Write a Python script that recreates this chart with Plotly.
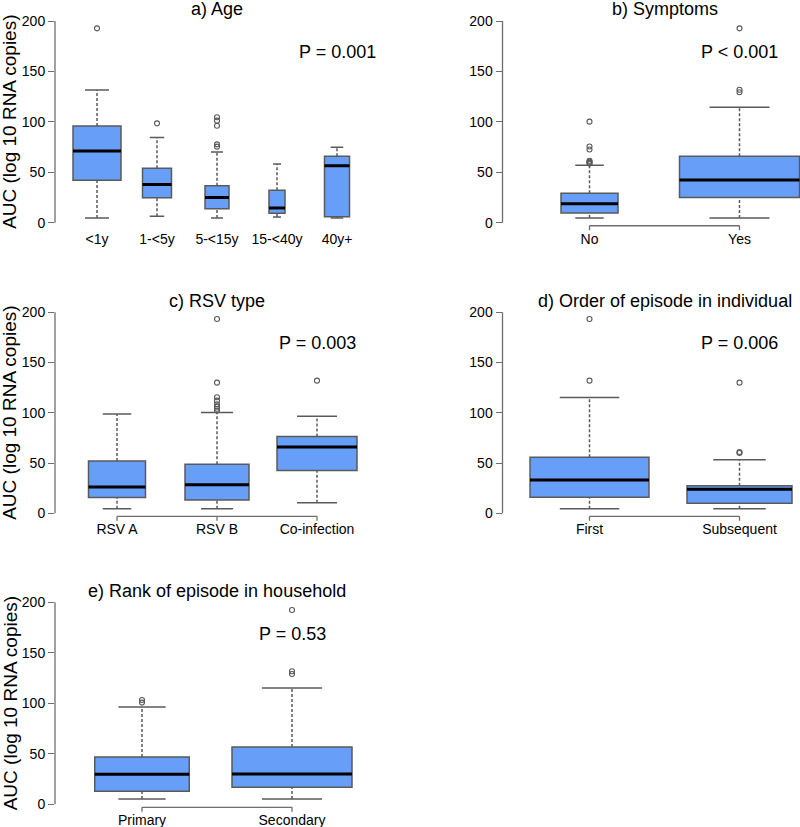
import plotly.graph_objects as go

# ---------------- data ----------------
# a) Age
age_cats = ["<1y", "1-<5y", "5-<15y", "15-<40y", "40y+"]
age_lower = [4.6, 6.3, 4.6, 5.6, 4.6]
age_q1 = [42.0, 24.8, 13.9, 9.3, 6.0]
age_median = [71.1, 38.0, 25.1, 14.5, 56.5]
age_q3 = [95.9, 53.9, 36.7, 32.1, 65.8]
age_upper = [131.6, 84.6, 70.1, 58.2, 74.7]
age_outliers = [[192.7], [98.5], [104.5, 101.2, 96.2, 77.7, 75.4], [], []]
age_p = "P = 0.001"

# b) Symptoms
sym_cats = ["No", "Yes"]
sym_lower = [4.6, 4.6]
sym_q1 = [9.6, 25.1]
sym_median = [18.8, 42.3]
sym_q3 = [29.1, 65.8]
sym_upper = [57.0, 114.4]
sym_outliers = [[100.2, 75.5, 72.6, 61.5, 60.5, 59.5, 58.6], [192.7, 131.9, 129.3]]
sym_p = "P < 0.001"

# c) RSV type
rsv_cats = ["RSV A", "RSV B", "Co-infection"]
rsv_lower = [4.6, 4.6, 10.6]
rsv_q1 = [15.6, 13.3, 42.5]
rsv_median = [26.2, 28.5, 66.0]
rsv_q3 = [52.1, 48.8, 76.3]
rsv_upper = [98.8, 100.2, 96.5]
rsv_outliers = [[], [193.4, 130.0, 115.4, 112.1, 108.5, 106.1, 104.1, 102.2], [132.0]]
rsv_p = "P = 0.003"

# d) Order of episode in individual
ord_cats = ["First", "Subsequent"]
ord_lower = [4.6, 4.6]
ord_q1 = [15.9, 10.0]
ord_median = [33.2, 23.9]
ord_q3 = [55.7, 27.5]
ord_upper = [115.1, 53.4]
ord_outliers = [[193.4, 132.0], [130.0, 61.0, 60.0]]
ord_p = "P = 0.006"

# e) Rank of episode in household
rank_cats = ["Primary", "Secondary"]
rank_lower = [5.3, 5.3]
rank_q1 = [12.9, 16.8]
rank_median = [29.7, 30.0]
rank_q3 = [46.9, 56.8]
rank_upper = [96.4, 115.2]
rank_outliers = [[103.3, 100.7], [192.4, 131.7, 129.0]]
rank_p = "P = 0.53"

y_ticks = [0, 50, 100, 150, 200]
y_title = "AUC (log 10 RNA copies)"

# ---------------- styling / layout ----------------
W, H = 800, 827
FONT = "Liberation Sans, Arial, Helvetica, sans-serif"
BOX_FILL = "#679ff8"
GREY = "#5a5a5a"
AXIS_GREY = "#6e6e6e"

ROWS = [(21.0, 222.7), (312.3, 513.3), (602.3, 804.3)]  # pixel of y=200, y=0
COLS = [(55.0, 379.0), (502.5, 826.5)]                   # plot region left/right
YLO, YHI = -8, 208

panels = [
    dict(title="a) Age", cats=age_cats, lo=age_lower, q1=age_q1, med=age_median, q3=age_q3,
         hi=age_upper, out=age_outliers, p=age_p, row=0, col=0, xline=False,
         widths=[0.8, 0.483, 0.4, 0.267, 0.417]),
    dict(title="b) Symptoms", cats=sym_cats, lo=sym_lower, q1=sym_q1, med=sym_median, q3=sym_q3,
         hi=sym_upper, out=sym_outliers, p=sym_p, row=0, col=1, xline=True,
         widths=[0.38, 0.8]),
    dict(title="c) RSV type", cats=rsv_cats, lo=rsv_lower, q1=rsv_q1, med=rsv_median, q3=rsv_q3,
         hi=rsv_upper, out=rsv_outliers, p=rsv_p, row=1, col=0, xline=True,
         widths=[0.57, 0.64, 0.8]),
    dict(title="d) Order of episode in individual", cats=ord_cats, lo=ord_lower, q1=ord_q1,
         med=ord_median, q3=ord_q3, hi=ord_upper, out=ord_outliers, p=ord_p, row=1, col=1,
         xline=True, widths=[0.793, 0.70]),
    dict(title="e) Rank of episode in household", cats=rank_cats, lo=rank_lower, q1=rank_q1,
         med=rank_median, q3=rank_q3, hi=rank_upper, out=rank_outliers, p=rank_p, row=2, col=0,
         xline=True, widths=[0.63, 0.8]),
]

fig = go.Figure()
layout = dict(width=W, height=H, margin=dict(l=0, r=0, t=0, b=0),
              paper_bgcolor="white", plot_bgcolor="white", showlegend=False,
              boxmode="overlay", font=dict(family=FONT, color="black"))
annotations, shapes = [], []

for i, pn in enumerate(panels):
    k = "" if i == 0 else str(i + 1)
    xa, ya = "x" + k, "y" + k
    n = len(pn["cats"])
    left, right = COLS[pn["col"]]
    py200, py0 = ROWS[pn["row"]]
    vis_right = min(right, W)
    ppu = (right - left) / (1.08 * n)
    x0 = 0.5 - 0.04 * n
    xr = [x0, x0 + (vis_right - left) / ppu]
    sy = (py0 - py200) / 200.0
    top = py0 - YHI * sy
    bot = py0 - YLO * sy
    pos = list(range(1, n + 1))

    layout["xaxis" + k] = dict(domain=[left / W, vis_right / W], range=xr, anchor=ya,
                               tickvals=pos, ticktext=pn["cats"], ticks="", showline=False,
                               showgrid=False, zeroline=False, ticklabelstandoff=-2,
                               tickfont=dict(size=14, family=FONT, color="black"))
    layout["yaxis" + k] = dict(domain=[1 - bot / H, 1 - top / H], range=[YLO, YHI], anchor=xa,
                               tickvals=y_ticks, ticks="outside", ticklen=6, tickwidth=1.3,
                               tickcolor=AXIS_GREY, showline=False, showgrid=False,
                               zeroline=False,
                               tickfont=dict(size=14, family=FONT, color="black"))

    # boxes
    for j in range(n):
        fig.add_trace(go.Box(x=[pos[j]], q1=[pn["q1"][j]], median=[pn["med"][j]],
                             q3=[pn["q3"][j]], lowerfence=[pn["q1"][j]],
                             upperfence=[pn["q3"][j]], width=pn["widths"][j],
                             fillcolor=BOX_FILL, line=dict(color=GREY, width=1.5),
                             whiskerwidth=0, boxpoints=False, xaxis=xa, yaxis=ya,
                             hoverinfo="skip"))
    # whiskers (dashed)
    wx, wy = [], []
    for j in range(n):
        wx += [pos[j], pos[j], None, pos[j], pos[j], None]
        wy += [pn["q3"][j], pn["hi"][j], None, pn["lo"][j], pn["q1"][j], None]
    fig.add_trace(go.Scatter(x=wx, y=wy, mode="lines", xaxis=xa, yaxis=ya,
                             line=dict(color=GREY, width=1.5, dash="3px,2px"),
                             hoverinfo="skip"))
    # staples
    sx, sy_ = [], []
    for j in range(n):
        hw = pn["widths"][j] / 4
        sx += [pos[j] - hw, pos[j] + hw, None, pos[j] - hw, pos[j] + hw, None]
        sy_ += [pn["hi"][j], pn["hi"][j], None, pn["lo"][j], pn["lo"][j], None]
    fig.add_trace(go.Scatter(x=sx, y=sy_, mode="lines", xaxis=xa, yaxis=ya,
                             line=dict(color=GREY, width=1.5), hoverinfo="skip"))
    # medians
    mx, my = [], []
    for j in range(n):
        hw = pn["widths"][j] / 2
        mx += [pos[j] - hw, pos[j] + hw, None]
        my += [pn["med"][j], pn["med"][j], None]
    fig.add_trace(go.Scatter(x=mx, y=my, mode="lines", xaxis=xa, yaxis=ya,
                             line=dict(color="black", width=3), hoverinfo="skip"))
    # outliers
    ox, oy = [], []
    for j in range(n):
        for v in pn["out"][j]:
            ox.append(pos[j])
            oy.append(v)
    if ox:
        fig.add_trace(go.Scatter(x=ox, y=oy, mode="markers", xaxis=xa, yaxis=ya,
                                 marker=dict(symbol="circle-open", size=5,
                                             color=GREY, line=dict(width=1.1)),
                                 hoverinfo="skip"))

    # y axis line (0..200)
    shapes.append(dict(type="line", xref=xa + " domain", yref=ya, x0=0, x1=0,
                       y0=y_ticks[0], y1=y_ticks[-1], line=dict(color=AXIS_GREY, width=1.3)))
    # x axis line spanning categories
    if pn["xline"]:
        yl = 1 - (py0 + 3 * sy) / H
        yt = 1 - (py0 + 3 * sy + 4.5) / H
        shapes.append(dict(type="line", xref=xa, yref="paper", x0=pos[0], x1=pos[-1],
                           y0=yl, y1=yl, line=dict(color=AXIS_GREY, width=1.3)))
        for p_ in pos:
            shapes.append(dict(type="line", xref=xa, yref="paper", x0=p_, x1=p_,
                               y0=yl, y1=yt, line=dict(color=AXIS_GREY, width=1.3)))

    # title
    annotations.append(dict(text=pn["title"], xref="paper", yref="paper",
                            x=(left + right) / 2 / W, y=1 - (py200 - 11.5) / H,
                            xanchor="center", yanchor="middle", showarrow=False,
                            font=dict(size=18, family=FONT, color="black")))
    # p-value
    annotations.append(dict(text=pn["p"], xref=xa, yref=ya, x=pos[-1], y=169,
                            xanchor="center", yanchor="middle", showarrow=False,
                            font=dict(size=18, family=FONT, color="black")))
    # y title (left column)
    if pn["col"] == 0:
        annotations.append(dict(text=y_title, xref="paper", yref=ya, x=10 / W, y=100,
                                xanchor="center", yanchor="middle", textangle=-90,
                                showarrow=False,
                                font=dict(size=19, family=FONT, color="black")))

layout["annotations"] = annotations
layout["shapes"] = shapes
fig.update_layout(**layout)
fig.write_html("out.html", config={"displayModeBar": False},
               post_script="document.body.style.margin='0px';"
                           "document.body.style.overflow='hidden';")
